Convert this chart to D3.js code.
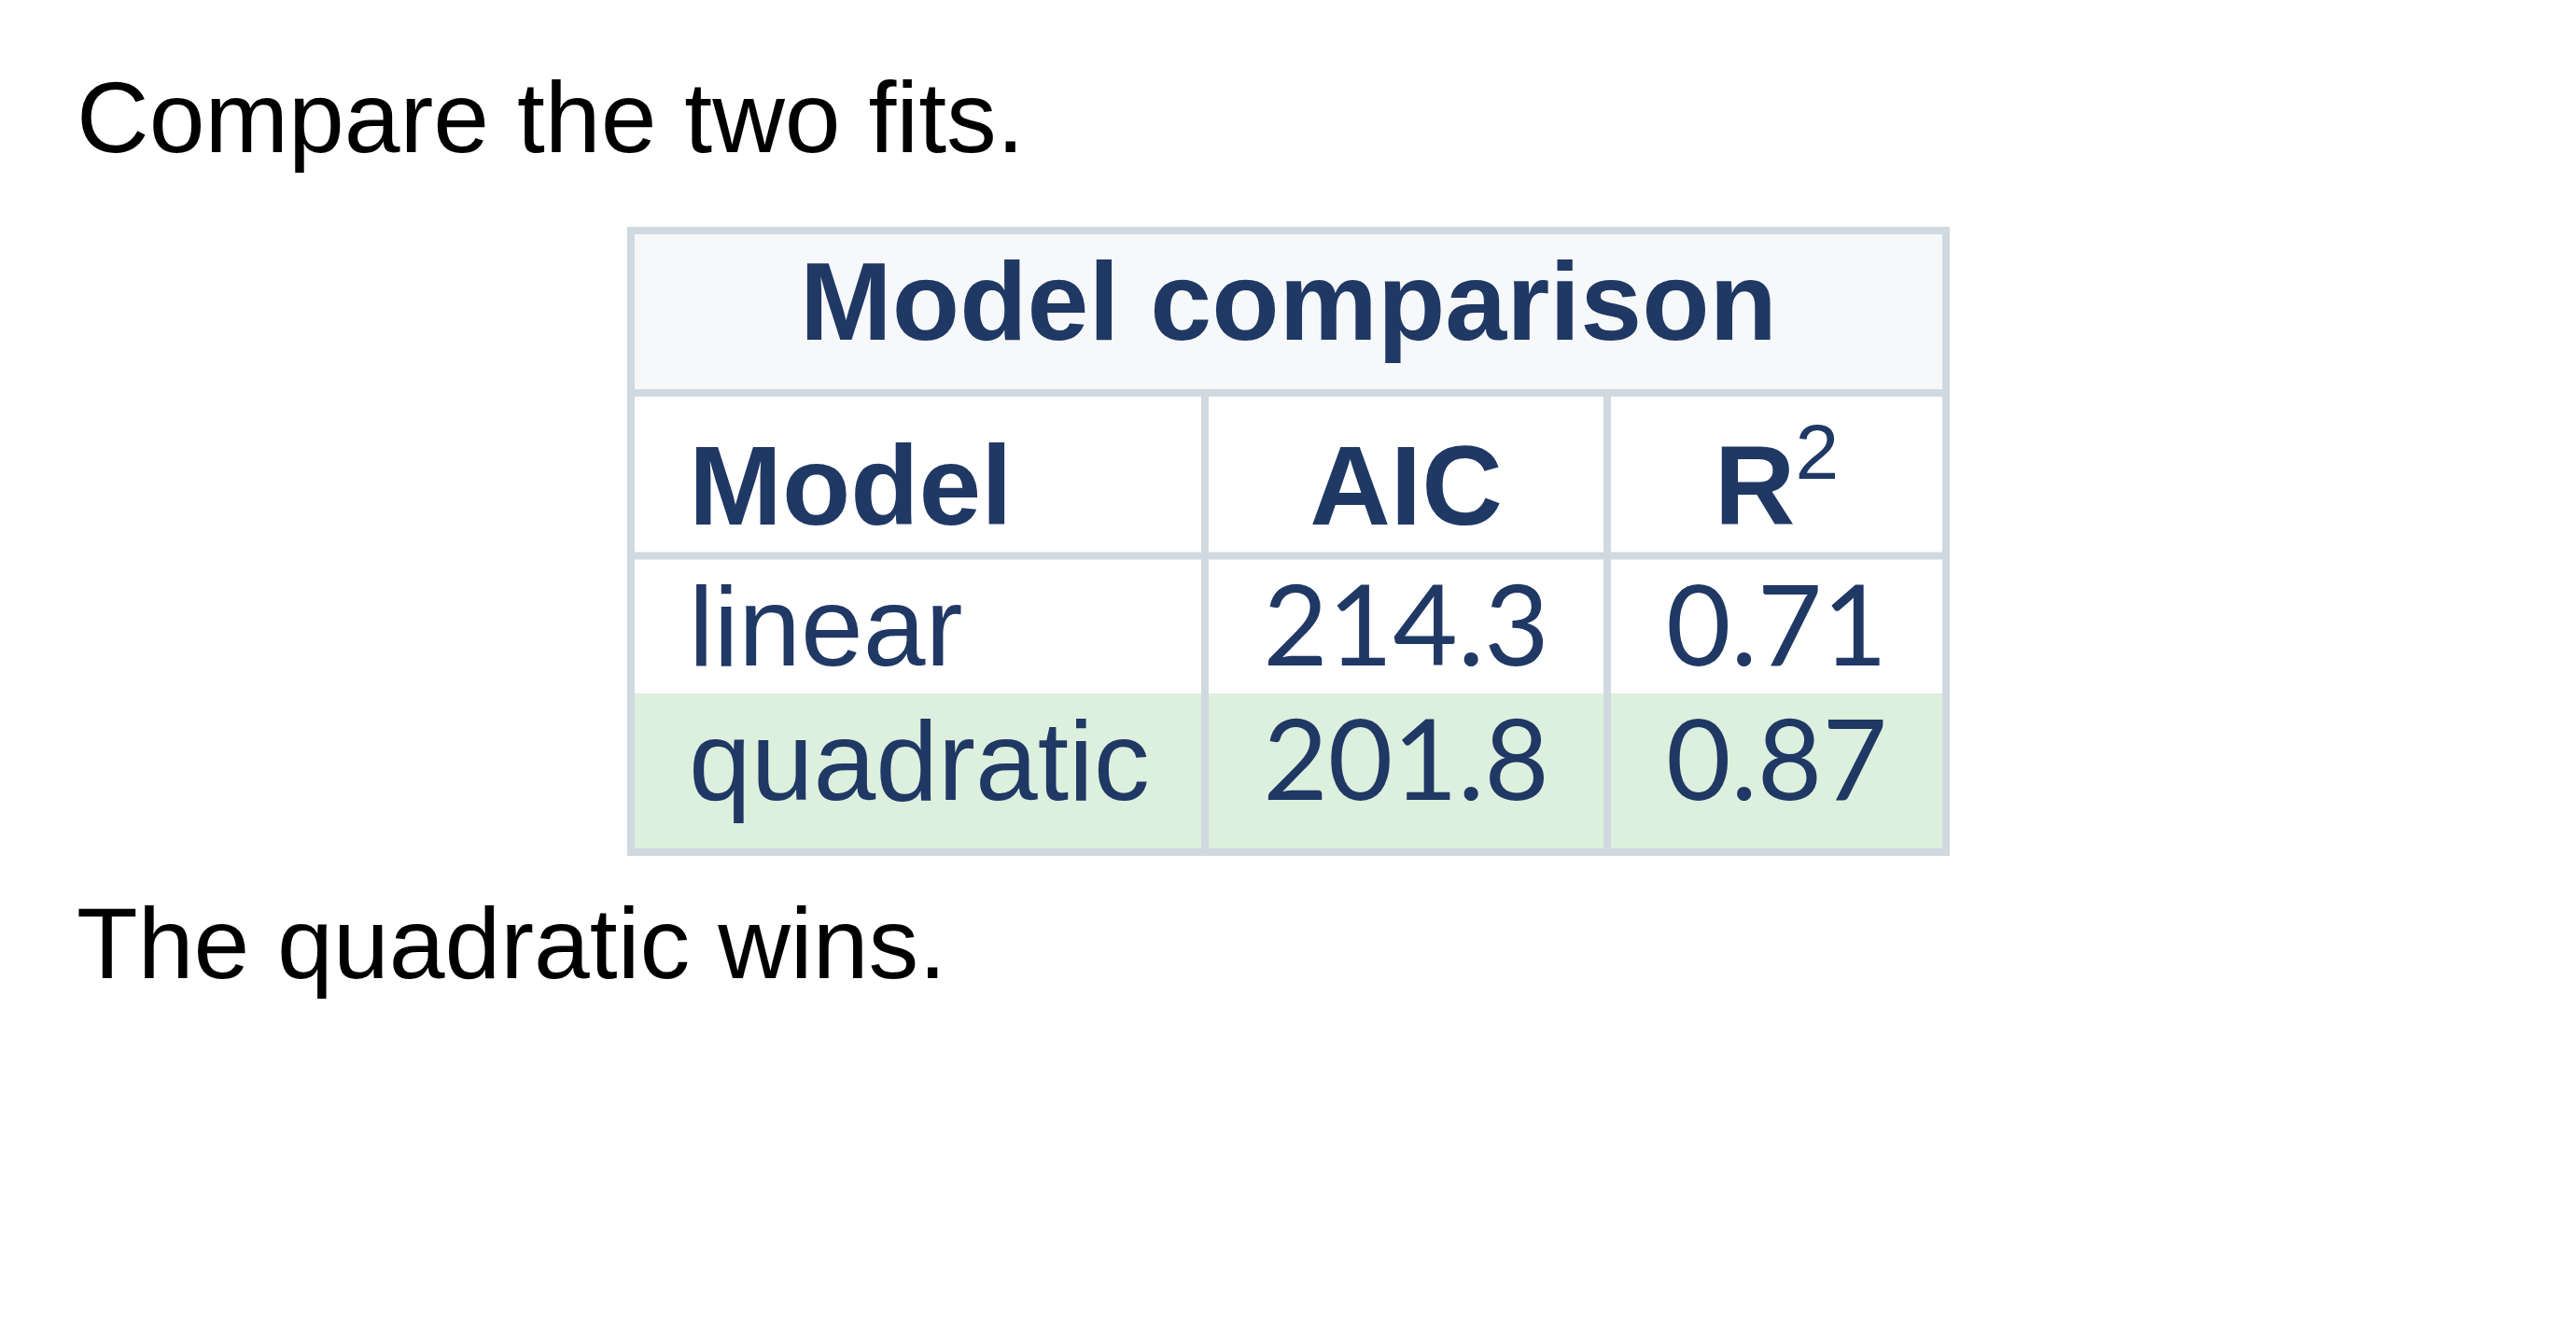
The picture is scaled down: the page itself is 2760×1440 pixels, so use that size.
<!DOCTYPE html>
<html>
<head>
<meta charset="utf-8">
<script src="https://cdn.jsdelivr.net/npm/d3@7"></script>
<style>
  html, body { margin: 0; padding: 0; background: #fff; }
</style>
</head>
<body>
<div id="chart"></div>
<script>
// table content
const intro = "Compare the two fits.";
const outro = "The quadratic wins.";
const title = "Model comparison";
const headers = ["Model", "AIC", "R"];
const models = ["linear", "quadratic"];
const aic = [214.3, 201.8];
const r2 = [0.71, 0.87];

const width = 2760;
const height = 1440;

const navy = "#203864";
const line = "#d1d9e0";
const border = 8;

const svg = d3
  .select("#chart")
  .append("svg")
  .attr("width", width)
  .attr("height", height)
  .style("display", "block");

// table frame (outer edges of the border)
const tbl = { left: 672, right: 2089, top: 243, bottom: 917 };
const titleBottom = 421; // centre of the line under the title
const headBottom = 595.5; // centre of the line under the header row

// columns: centres of the separating lines
const colEdges = [676, 1291, 1722, 2085];
const colKeys = ["model", "aic", "r2"];
const colX = d3.scaleOrdinal().domain(colKeys).range(colEdges.slice(0, 3));
const colW = (k) => colEdges[colKeys.indexOf(k) + 1] - colX(k);

// body rows
const y = d3
  .scaleBand()
  .domain(models)
  .range([599, 887])
  .paddingInner(0);
const bodyBottom = tbl.bottom - border;

const rows = models.map((m, i) => ({ model: m, aic: aic[i], r2: r2[i] }));
const best = d3.least(rows, (d) => d.aic);

// title background
svg
  .append("rect")
  .attr("x", tbl.left + border)
  .attr("y", tbl.top + border)
  .attr("width", tbl.right - tbl.left - 2 * border)
  .attr("height", titleBottom - border / 2 - tbl.top - border)
  .attr("fill", "#f6f8fa");

// highlighted row
svg
  .selectAll("rect.hl")
  .data(rows.filter((d) => d === best))
  .join("rect")
  .attr("class", "hl")
  .attr("x", tbl.left + border)
  .attr("y", (d) => y(d.model))
  .attr("width", tbl.right - tbl.left - 2 * border)
  .attr("height", (d) =>
    d.model === models[models.length - 1]
      ? bodyBottom - y(d.model)
      : y.bandwidth()
  )
  .attr("fill", "#ddefdd");

// grid lines
const g = svg.append("g").attr("stroke", line).attr("stroke-width", border);
g.append("rect")
  .attr("x", tbl.left + border / 2)
  .attr("y", tbl.top + border / 2)
  .attr("width", tbl.right - tbl.left - border)
  .attr("height", tbl.bottom - tbl.top - border)
  .attr("fill", "none");
[titleBottom, headBottom].forEach((yy) => {
  g.append("line")
    .attr("x1", tbl.left)
    .attr("x2", tbl.right)
    .attr("y1", yy)
    .attr("y2", yy);
});
colEdges.slice(1, 3).forEach((xx) => {
  g.append("line")
    .attr("x1", xx)
    .attr("x2", xx)
    .attr("y1", titleBottom)
    .attr("y2", tbl.bottom);
});

// paragraphs
svg
  .append("text")
  .attr("x", 82)
  .attr("y", 163)
  .attr("font-family", "Liberation Sans, Arial, sans-serif")
  .attr("font-size", 107.5)
  .attr("fill", "#000")
  .text(intro);

svg
  .append("text")
  .attr("x", 82)
  .attr("y", 1048)
  .attr("font-family", "Liberation Sans, Arial, sans-serif")
  .attr("font-size", 107.5)
  .attr("fill", "#000")
  .text(outro);

// title
svg
  .append("text")
  .attr("x", (tbl.left + tbl.right) / 2)
  .attr("y", 364)
  .attr("text-anchor", "middle")
  .attr("font-family", "Liberation Sans, Arial, sans-serif")
  .attr("font-weight", "bold")
  .attr("font-size", 118.5)
  .attr("fill", navy)
  .text(title);

// header row
const pad = 58;
const head = svg
  .append("g")
  .attr("font-family", "Liberation Sans, Arial, sans-serif")
  .attr("font-weight", "bold")
  .attr("font-size", 120)
  .attr("fill", navy);

head
  .selectAll("text")
  .data(colKeys)
  .join("text")
  .attr("x", (k, i) => (i === 0 ? colX(k) + border / 2 + pad : colX(k) + colW(k) / 2))
  .attr("y", 562)
  .attr("text-anchor", (k, i) => (i === 0 ? "start" : "middle"))
  .each(function (k, i) {
    const t = d3.select(this);
    t.append("tspan").text(headers[i]);
    if (k === "r2") {
      t.append("tspan")
        .attr("dy", -49)
        .attr("font-weight", "normal")
        .attr("font-size", 84)
        .text("2");
    }
  });

// body rows
const body = svg.append("g").attr("fill", navy).attr("font-size", 120);

const rowG = body
  .selectAll("g")
  .data(rows)
  .join("g")
  .attr("transform", (d) => `translate(0,${y(d.model) + 114})`);

rowG
  .append("text")
  .attr("x", colX("model") + border / 2 + pad)
  .attr("font-family", "Liberation Sans, Arial, sans-serif")
  .text((d) => d.model);

rowG
  .append("text")
  .attr("x", colX("aic") + colW("aic") / 2)
  .attr("text-anchor", "middle")
  .attr("font-family", "Lato, sans-serif")
  .text((d) => d3.format(".1f")(d.aic));

rowG
  .append("text")
  .attr("x", colX("r2") + colW("r2") / 2)
  .attr("text-anchor", "middle")
  .attr("font-family", "Lato, sans-serif")
  .text((d) => d3.format(".2f")(d.r2));
</script>
</body>
</html>
